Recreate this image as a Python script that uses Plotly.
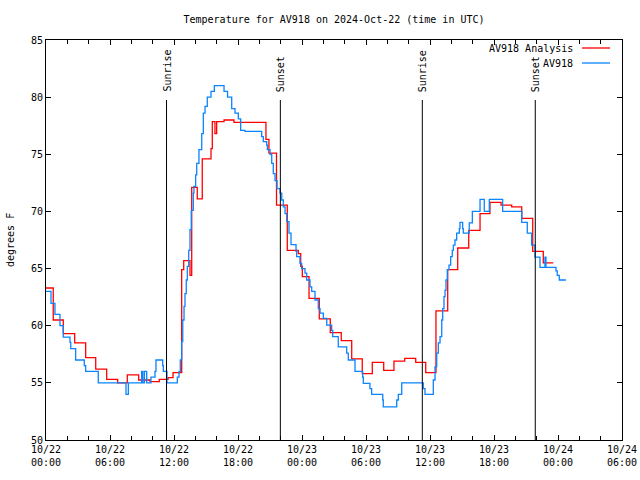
import pandas as pd
import plotly.graph_objects as go

BASE = pd.Timestamp("2024-10-22 00:00")

# Analysis (hours after 2024-10-22 00:00 UTC, degrees F), stepped
analysis_hours = [0.0, 0.68, 1.62, 2.69, 3.72, 4.66, 5.69, 6.72, 7.62, 8.69, 9.75, 10.62,
                  11.44, 11.91, 12.72, 12.91, 13.5, 13.66, 14.18, 14.65, 15.47, 15.59,
                  15.84, 16.0, 16.69, 17.62, 20.62, 20.9, 21.61, 22.62, 23.65, 23.88,
                  24.03, 24.66, 25.62, 26.65, 27.68, 28.66, 29.65, 30.59, 31.66, 32.62,
                  33.63, 34.66, 35.6, 36.56, 37.66, 38.6, 39.63, 40.69, 41.62, 42.66,
                  43.66, 44.6, 45.63, 46.62, 47.56]
analysis_temp = [63.3, 60.5, 59.3, 58.5, 57.2, 56.2, 55.3, 55.0, 55.7, 55.25, 55.1, 55.3,
                 55.45, 55.9, 64.9, 65.7, 64.4, 72.1, 71.1, 74.6, 75.5, 77.85,
                 76.8, 77.85, 78.0, 77.8, 76.3, 75.1, 70.55, 66.6, 66.3, 65.2,
                 64.3, 62.4, 60.6, 59.4, 58.7, 57.1, 55.8, 56.8, 56.1, 56.9,
                 57.15, 56.8, 55.9, 61.3, 64.9, 66.8, 68.35, 69.8, 70.8, 70.55,
                 70.4, 69.4, 66.5, 65.5, 65.5]

# Observations
obs_hours = [0.0, 0.47, 0.84, 1.31, 1.62, 2.25, 2.32, 2.78, 3.59, 3.72, 4.9, 7.5, 7.72,
             8.97, 9.07, 9.22, 9.44, 9.84, 10.22, 10.31, 10.94, 11.0, 11.34, 12.31, 12.47,
             12.59, 12.72, 12.82, 12.94, 13.03, 13.15, 13.25, 13.38, 13.5, 13.62, 13.81,
             13.87, 14.03, 14.13, 14.34, 14.6, 14.75, 14.91, 15.12, 15.47, 15.78, 16.69,
             17.02, 17.41, 17.72, 18.03, 18.25, 18.66, 20.22, 20.37, 20.69, 20.75, 21.0,
             21.16, 21.31, 21.47, 21.66, 21.94, 22.1, 22.25, 22.41, 22.57, 22.78, 22.97,
             23.44, 23.5, 23.81, 23.97, 24.28, 24.44, 24.75, 24.91, 25.22, 25.53, 25.69,
             26.0, 26.32, 26.78, 26.88, 27.4, 28.19, 28.34, 28.97, 29.69, 29.75, 30.37,
             30.53, 31.57, 31.62, 32.88, 33.03, 33.35, 35.37, 35.53, 36.31, 36.47, 36.63,
             36.78, 36.94, 37.1, 37.19, 37.31, 37.41, 37.5, 37.62, 37.78, 37.94, 38.09,
             38.19, 38.34, 38.5, 38.75, 38.81, 39.06, 39.12, 39.68, 39.97, 40.69, 41.09,
             41.56, 42.81, 44.6, 45.12, 45.53, 45.84, 46.31, 46.78, 46.87, 47.81, 47.93,
             48.12, 48.75]
obs_temp = [63.0, 61.95, 61.0, 60.0, 59.0, 58.55, 58.0, 57.0, 56.5, 56.0, 55.0, 54.0, 55.0,
            56.0, 55.0, 56.0, 55.0, 55.5, 56.0, 57.0, 56.5, 56.0, 55.0, 55.5, 56.0,
            57.0, 58.6, 60.5, 61.7, 62.8, 64.0, 65.2, 66.6, 68.4, 70.1, 71.6,
            72.2, 73.2, 74.2, 75.4, 76.8, 78.6, 79.2, 80.0, 80.5, 81.0, 80.5,
            80.0, 79.0, 78.6, 78.1, 77.1, 77.0, 76.55, 76.1, 75.8, 75.4, 75.0,
            74.2, 73.3, 72.7, 72.0, 71.6, 71.0, 70.4, 69.8, 69.1, 68.1, 67.1,
            66.5, 66.05, 65.45, 65.0, 64.6, 64.0, 63.4, 63.0, 62.25, 61.5, 61.1,
            60.65, 60.05, 59.6, 59.05, 58.15, 57.6, 57.0, 56.0, 55.5, 54.95, 54.5,
            54.0, 53.5, 52.9, 53.5, 54.0, 55.0, 54.5, 54.0, 55.25, 56.4, 57.6,
            58.5, 59.05, 60.5, 61.5, 62.55, 63.1, 64.0, 64.9, 65.3, 66.05, 66.6,
            67.05, 67.5, 68.1, 68.5, 69.05, 68.5, 68.1, 69.0, 70.0, 71.05, 70.0,
            71.05, 70.0, 69.05, 68.1, 67.05, 66.0, 65.1, 66.0, 65.1, 64.8, 64.4,
            64.0, 64.0]

# Sun events (hours after 2024-10-22 00:00 UTC)
sun_hours = [11.3, 21.97, 35.28, 45.87]
sun_labels = ["Sunrise", "Sunset", "Sunrise", "Sunset"]
sun_line_top = 79.75

series_names = ["AV918 Analysis", "AV918"]
series_colors = ["#ff0000", "#0a84ff"]

title_text = "Temperature for AV918 on 2024-Oct-22 (time in UTC)"
y_label = "degrees F"


def to_time(hours):
    return [BASE + pd.Timedelta(hours=h) for h in hours]


FONT = dict(family="DejaVu Sans Mono", size=10, color="black")

W, H = 640, 480
ML, MR, MT, MB = 46, 18, 40, 40
plot_w, plot_h = W - ML - MR, H - MT - MB  # 576 x 400


def px_x(px):  # reference pixel -> paper x
    return (px - ML) / plot_w


def px_y(py):  # reference pixel -> paper y
    return (MT + plot_h - py) / plot_h


fig = go.Figure()
fig.add_trace(go.Scatter(x=to_time(analysis_hours), y=analysis_temp, mode="lines",
                         line=dict(color=series_colors[0], width=1.3, shape="hv"),
                         name=series_names[0], showlegend=False))
fig.add_trace(go.Scatter(x=to_time(obs_hours), y=obs_temp, mode="lines",
                         line=dict(color=series_colors[1], width=1.3, shape="hv"),
                         name=series_names[1], showlegend=False))

for h, lab in zip(sun_hours, sun_labels):
    t = BASE + pd.Timedelta(hours=h)
    fig.add_trace(go.Scatter(x=[t, t], y=[50, sun_line_top], mode="lines",
                             line=dict(color="black", width=1), showlegend=False,
                             hoverinfo="skip"))
    fig.add_annotation(x=t, y=sun_line_top, xref="x", yref="y", text=lab,
                       textangle=-90, showarrow=False, xanchor="center",
                       yanchor="bottom", yshift=6, font=FONT)

# Manual gnuplot-style legend (text right, sample line after)
for i, (nm, col) in enumerate(zip(series_names, series_colors)):
    py = 48 + 15 * i
    fig.add_annotation(x=px_x(575), y=px_y(py), xref="paper", yref="paper",
                       text=nm, showarrow=False, xanchor="right", yanchor="middle",
                       font=FONT)
    fig.add_shape(type="line", xref="paper", yref="paper",
                  x0=px_x(582), x1=px_x(610), y0=px_y(py), y1=px_y(py),
                  line=dict(color=col, width=1.3))

fig.add_annotation(x=px_x(10), y=0.5, xref="paper", yref="paper",
                   text=y_label, textangle=-90, showarrow=False,
                   xanchor="center", yanchor="middle", font=FONT)

fig.update_layout(
    width=W, height=H,
    margin=dict(l=ML, r=MR, t=MT, b=MB, autoexpand=False),
    paper_bgcolor="white", plot_bgcolor="white",
    font=FONT,
    title=dict(text=title_text, x=334 / W, xref="container", xanchor="center",
               y=1 - 19 / H, yref="container", yanchor="middle", font=FONT),
    showlegend=False,
)
fig.update_xaxes(
    type="date",
    range=[BASE, BASE + pd.Timedelta(hours=54)],
    tick0=BASE, dtick=6 * 3600 * 1000, tickformat="%m/%d<br>%H:%M",
    ticks="inside", ticklen=5, tickcolor="black", tickwidth=1,
    minor=dict(dtick=2 * 3600 * 1000, ticks="inside", ticklen=4, tickcolor="black",
               showgrid=False),
    showline=True, linecolor="black", linewidth=1, mirror="ticks",
    showgrid=False, zeroline=False, tickfont=FONT,
)
fig.update_yaxes(
    range=[50, 85], dtick=5, tick0=50,
    ticks="inside", ticklen=5, tickcolor="black", tickwidth=1,
    showline=True, linecolor="black", linewidth=1, mirror="ticks",
    showgrid=False, zeroline=False, tickfont=FONT,
)

fig.write_html(
    "out.html",
    config={"displayModeBar": False},
    post_script="document.body.style.margin='0';document.body.style.overflow='hidden';",
)
